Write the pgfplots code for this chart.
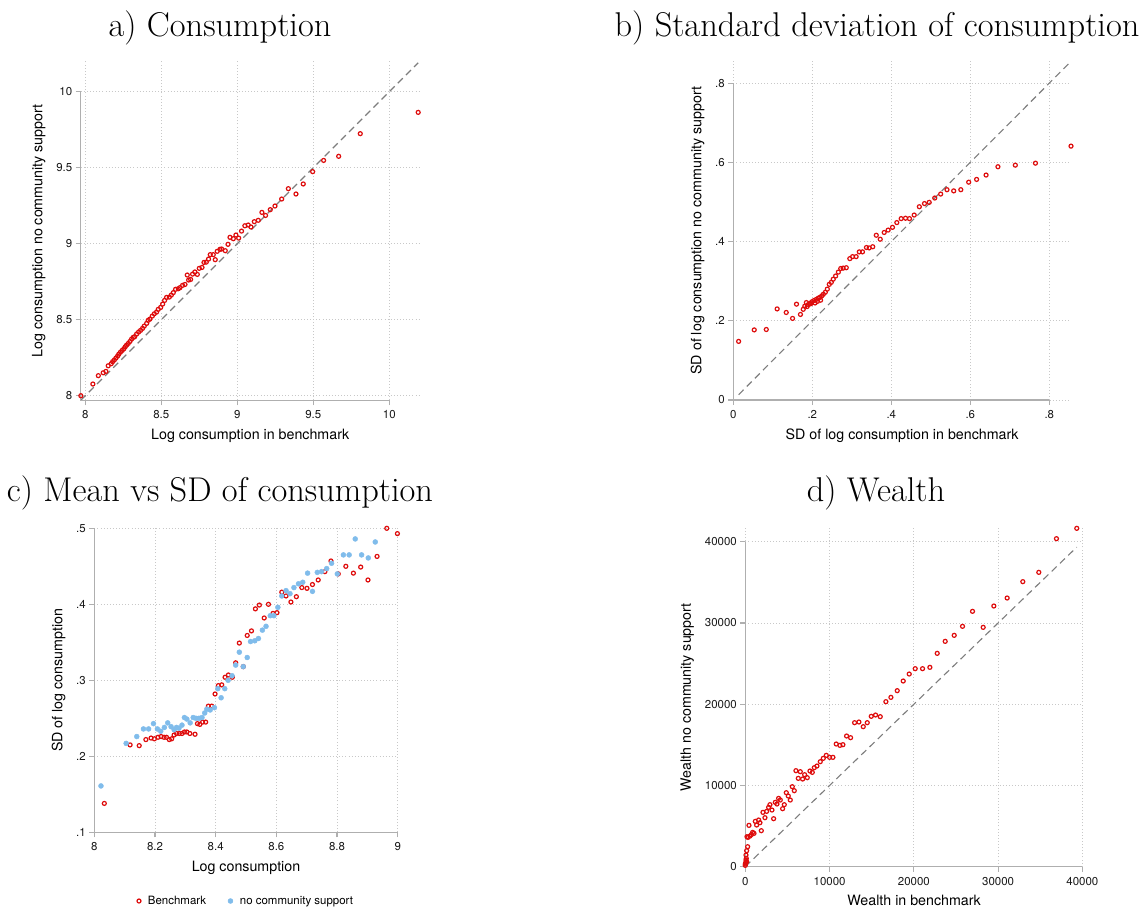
\documentclass[border=0pt]{standalone}
\usepackage{fontspec}
\newfontfamily\helv{TeX Gyre Heros}
\usepackage{pgfplots}
\pgfplotsset{compat=1.18}

\definecolor{bred}{RGB}{222,12,12}
\definecolor{nblue}{RGB}{128,188,235}
\definecolor{axgray}{RGB}{175,175,175}
\definecolor{grgray}{RGB}{200,200,200}
\definecolor{dgray}{RGB}{125,125,125}

\tikzset{axline/.style={axgray, line width=1.3bp}}
\pgfplotsset{
  stata/.style={
    scale only axis,
    axis x line*=bottom, axis y line*=left,
    axis line style={draw=none},
    tick align=outside,
    major tick length=5bp,
    tick style={axgray, line width=1.2bp},
    grid=major,
    grid style={grgray, line width=0.9bp, dash pattern=on 0.9bp off 2.2bp},
    tick label style={font=\helv\fontsize{11.5}{13}\selectfont, text=black!90},
    xticklabel shift=2bp,
    label style={font=\helv\fontsize{14.3}{16}\selectfont},
    xlabel shift=3bp, ylabel shift=4bp,
    scaled ticks=false,
    clip=false,
  },
  hollow/.style={only marks, mark=o, mark size=2.0bp, draw=bred, line width=1.2bp},
  diag/.style={dgray, line width=1.1bp, dash pattern=on 7bp off 4.5bp},
}

\begin{document}
\begin{tikzpicture}
\path[use as bounding box] (0bp,0bp) rectangle (1139bp,907bp);

\node[font=\fontsize{34.5}{40}\selectfont, anchor=base] at (220bp,870bp) {a) Consumption};
\node[font=\fontsize{34.5}{40}\selectfont, anchor=base] at (877bp,870bp) {b) Standard deviation of consumption};
\node[font=\fontsize{34.5}{40}\selectfont, anchor=base] at (220bp,405bp) {c) Mean vs SD of consumption};
\node[font=\fontsize{34.5}{40}\selectfont, anchor=base] at (876bp,405bp) {d) Wealth};

% a) consumption
\begin{axis}[stata, at={(80.7bp,506.7bp)}, anchor=south west,
  width=339bp, height=339bp,
  xmin=7.97, xmax=10.2, ymin=7.97, ymax=10.2,
  xtick={8,8.5,9,9.5,10}, xticklabels={8,8.5,9,9.5,10},
  ytick={8,8.5,9,9.5,10}, yticklabels={8,8.5,9,9.5,10},
  xlabel={Log consumption in benchmark},
  ylabel={Log consumption no community support}]
\addplot[diag] coordinates {(7.97,7.97) (10.19,10.19)};
\addplot[hollow] coordinates {
(10.19,9.864) (9.809,9.724) (9.667,9.575) (9.568,9.548) (9.496,9.474)
(9.434,9.393) (9.386,9.327) (9.336,9.362) (9.292,9.294) (9.248,9.248)
(9.217,9.224) (9.186,9.186) (9.162,9.206) (9.138,9.154) (9.112,9.145)
(9.09,9.11) (9.072,9.123) (9.05,9.118) (9.028,9.083) (9.009,9.037)
(8.991,9.057) (8.974,9.033) (8.952,9.042) (8.939,8.996) (8.921,8.954)
(8.897,8.965) (8.886,8.963) (8.868,8.95) (8.855,8.895) (8.842,8.928)
(8.822,8.928) (8.811,8.899) (8.796,8.879) (8.781,8.877) (8.768,8.844)
(8.75,8.838) (8.737,8.798) (8.721,8.814) (8.706,8.8) (8.693,8.765)
(8.68,8.761) (8.671,8.794) (8.656,8.732) (8.64,8.726) (8.623,8.711)
(8.612,8.704) (8.594,8.7) (8.579,8.678) (8.566,8.662) (8.553,8.649)
(8.535,8.647) (8.522,8.627) (8.509,8.603) (8.496,8.581) (8.48,8.568)
(8.469,8.55) (8.454,8.539) (8.441,8.524) (8.425,8.504) (8.414,8.496)
(8.404,8.476) (8.388,8.458) (8.377,8.443) (8.364,8.43) (8.351,8.419)
(8.338,8.406) (8.325,8.388) (8.316,8.384) (8.305,8.373) (8.294,8.357)
(8.283,8.344) (8.272,8.333) (8.263,8.322) (8.254,8.309) (8.243,8.298)
(8.232,8.287) (8.221,8.274) (8.213,8.261) (8.202,8.248) (8.191,8.235)
(8.18,8.224) (8.171,8.211) (8.151,8.197) (8.136,8.16) (8.118,8.151)
(8.086,8.132) (8.05,8.077) (7.971,8.0)
};
\draw[axline] (axis cs:7.97,10) -- (axis cs:7.97,7.97) -- (axis cs:10,7.97);
\end{axis}

% b) standard deviation
\begin{axis}[stata, at={(733.3bp,507bp)}, anchor=south west,
  width=337.7bp, height=338.6bp,
  xmin=0, xmax=0.855, ymin=0, ymax=0.855,
  xtick={0,0.2,0.4,0.6,0.8}, xticklabels={0,.2,.4,.6,.8},
  ytick={0,0.2,0.4,0.6,0.8}, yticklabels={0,.2,.4,.6,.8},
  xlabel={SD of log consumption in benchmark},
  ylabel={SD of log consumption no community support}]
\addplot[diag] coordinates {(0.0135,0.0135) (0.855,0.855)};
\addplot[hollow] coordinates {
(0.855,0.641) (0.765,0.598) (0.714,0.593) (0.670,0.589) (0.640,0.568)
(0.616,0.557) (0.596,0.550) (0.576,0.531) (0.558,0.528) (0.541,0.531)
(0.525,0.520) (0.510,0.510) (0.496,0.499) (0.484,0.496) (0.471,0.488)
(0.458,0.467) (0.446,0.458) (0.436,0.459) (0.425,0.458) (0.414,0.448)
(0.403,0.436) (0.392,0.429) (0.382,0.423) (0.372,0.406) (0.362,0.416)
(0.353,0.387) (0.344,0.384) (0.337,0.385) (0.327,0.374) (0.319,0.374)
(0.311,0.362) (0.302,0.362) (0.295,0.357) (0.286,0.334) (0.278,0.333)
(0.272,0.332) (0.266,0.323) (0.259,0.313) (0.253,0.305) (0.248,0.297)
(0.243,0.292) (0.238,0.280) (0.233,0.272) (0.228,0.267) (0.224,0.263)
(0.219,0.259) (0.215,0.257) (0.210,0.254) (0.204,0.251) (0.199,0.248)
(0.194,0.244) (0.190,0.241) (0.185,0.246) (0.181,0.237) (0.177,0.229)
(0.170,0.216) (0.160,0.242) (0.150,0.206) (0.134,0.221) (0.111,0.230)
(0.0835,0.178) (0.053,0.177) (0.0135,0.148)
(0.196,0.243) (0.207,0.245) (0.213,0.249) (0.221,0.252) (0.187,0.236)
};
\draw[axline] (axis cs:0,0.8) -- (axis cs:0,0) -- (axis cs:0.8,0);
\end{axis}

% c) mean vs sd
\begin{axis}[stata, at={(94.3bp,74.7bp)}, anchor=south west,
  width=303.4bp, height=304bp,
  xmin=8, xmax=9, ymin=0.1, ymax=0.5,
  xtick={8,8.2,8.4,8.6,8.8,9}, xticklabels={8,8.2,8.4,8.6,8.8,9},
  ytick={0.1,0.2,0.3,0.4,0.5}, yticklabels={.1,.2,.3,.4,.5},
  xlabel={Log consumption},
  ylabel={SD of log consumption},
  legend columns=2,
  legend style={at={(0.5,-0.226)}, anchor=center, draw=none,
    font=\helv\fontsize{11.5}{13}\selectfont,
    /tikz/every odd column/.append style={column sep=5bp},
    /tikz/every even column/.append style={column sep=20bp}},
  legend cell align=left]
\addplot[hollow] coordinates {
(8.033,0.138) (8.118,0.215) (8.148,0.214) (8.170,0.222) (8.187,0.224)
(8.198,0.223) (8.210,0.225) (8.220,0.226) (8.230,0.225) (8.238,0.225)
(8.247,0.222) (8.255,0.223) (8.263,0.228) (8.271,0.230) (8.280,0.230)
(8.289,0.230) (8.297,0.232) (8.305,0.232) (8.315,0.230) (8.332,0.229)
(8.340,0.243) (8.348,0.242) (8.357,0.245) (8.367,0.245) (8.376,0.266)
(8.387,0.266) (8.398,0.282) (8.409,0.293) (8.420,0.294) (8.431,0.304)
(8.442,0.307) (8.455,0.304) (8.466,0.323) (8.478,0.349) (8.491,0.318)
(8.504,0.359) (8.518,0.365) (8.531,0.394) (8.544,0.399) (8.560,0.382)
(8.574,0.400) (8.589,0.388) (8.602,0.389) (8.618,0.416) (8.632,0.411)
(8.648,0.403) (8.666,0.410) (8.684,0.422) (8.701,0.421) (8.719,0.426)
(8.738,0.432) (8.760,0.443) (8.780,0.457) (8.804,0.440) (8.829,0.450)
(8.854,0.441) (8.878,0.449) (8.902,0.432) (8.932,0.463) (8.964,0.500)
(8.999,0.493)
};
\addlegendentry{Benchmark}
\addplot[only marks, mark=*, mark size=2.5bp, color=nblue] coordinates {
(8.022,0.161) (8.105,0.217) (8.140,0.226) (8.162,0.236) (8.179,0.236)
(8.195,0.243) (8.208,0.236) (8.219,0.233) (8.231,0.238) (8.242,0.244)
(8.253,0.239) (8.263,0.235) (8.271,0.238) (8.279,0.237) (8.289,0.241)
(8.297,0.251) (8.305,0.249) (8.316,0.244) (8.326,0.251) (8.335,0.250)
(8.345,0.250) (8.355,0.251) (8.364,0.257) (8.371,0.262) (8.382,0.261)
(8.396,0.264) (8.407,0.289) (8.418,0.277) (8.430,0.289) (8.441,0.300)
(8.454,0.306) (8.466,0.320) (8.478,0.337) (8.491,0.318) (8.504,0.330)
(8.515,0.351) (8.529,0.352) (8.541,0.355) (8.554,0.366) (8.566,0.371)
(8.580,0.385) (8.592,0.385) (8.605,0.396) (8.618,0.411) (8.632,0.418)
(8.645,0.414) (8.658,0.422) (8.673,0.427) (8.687,0.429) (8.703,0.441)
(8.719,0.417) (8.735,0.442) (8.749,0.443) (8.766,0.447) (8.782,0.454)
(8.801,0.440) (8.821,0.465) (8.840,0.465) (8.860,0.486) (8.881,0.465)
(8.903,0.461) (8.926,0.482)
};
\addlegendentry{no community support}
\draw[axline] (axis cs:8,0.5) -- (axis cs:8,0.1) -- (axis cs:9,0.1);
\end{axis}

% d) wealth
\begin{axis}[stata, at={(745.3bp,40.3bp)}, anchor=south west,
  width=337.7bp, height=338.8bp,
  xmin=0, xmax=40070, ymin=0, ymax=41700,
  xtick={0,10000,20000,30000,40000}, xticklabels={0,10000,20000,30000,40000},
  ytick={0,10000,20000,30000,40000}, yticklabels={0,10000,20000,30000,40000},
  xlabel={Wealth in benchmark},
  ylabel={Wealth no community support}]
\addplot[diag] coordinates {(0,0) (39330,39330)};
\addplot[hollow] coordinates {
(39330,41645) (36920,40373) (34825,36229) (32928,35081) (31070,33070)
(29490,32085) (28224,29459) (26960,31429) (25774,29583) (24786,28475)
(23718,27736) (22770,26259) (21900,24536) (21030,24372) (20160,24372)
(19449,23715) (18737,22854) (18026,21664) (17275,20843) (16681,20310)
(16010,18464) (15456,18669) (14942,18505) (14468,17725) (13994,17233)
(13480,17807) (12966,17725) (12492,15879) (12017,16084) (11582,15017)
(11227,14935) (10792,15099) (10396,13458) (10001,13458) (9606,13704)
(9250,13335) (8894,12924) (8499,12391) (8183,12186) (7945,11611)
(7669,11776) (7353,10955) (7036,11324) (6799,10791) (6523,11694)
(6286,10873) (6009,11817) (5811,9355) (5574,9847) (5337,8206)
(5100,8698) (4862,9109) (4625,7632) (4427,7139) (4151,8206)
(3953,8411) (3755,7714) (3558,7919) (3360,5908) (3162,6975)
(2925,7632) (2767,7303) (2530,6811) (2332,6031) (2095,6688)
(1897,4431) (1739,5416) (1581,5744) (1344,5129) (1186,5580)
(1028,4103) (870,4226) (712,3939) (553,3775) (435,5088)
(316,3611) (198,3693) (277,2462) (158,1969) (79,1436)
(79,821) (40,492) (0,328) (0,164) (119,1026) (158,615)
};
\draw[axline] (axis cs:0,40000) -- (axis cs:0,0) -- (axis cs:40000,0);
\end{axis}
\end{tikzpicture}
\end{document}
